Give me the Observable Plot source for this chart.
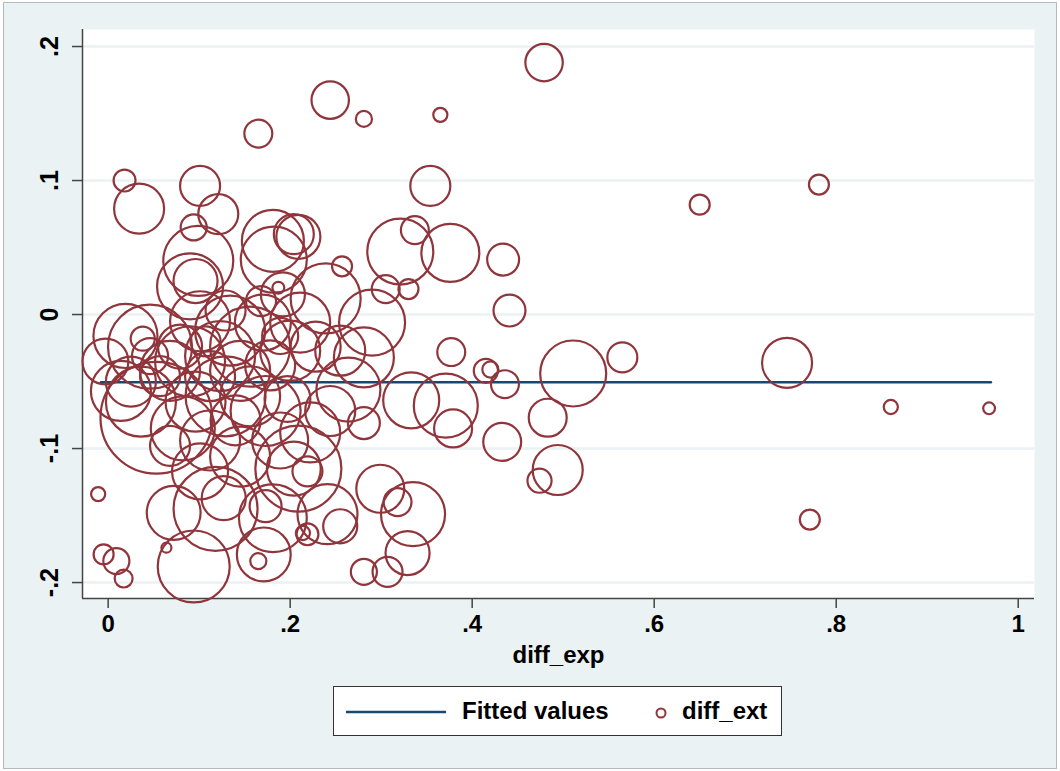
<!DOCTYPE html>
<html>
<head>
<meta charset="utf-8">
<script src="https://cdn.jsdelivr.net/npm/d3@7"></script>
<script src="https://cdn.jsdelivr.net/npm/@observablehq/plot@0.6"></script>
<style>
  html, body { margin: 0; padding: 0; background: #ffffff; }
  #wrap { position: relative; width: 1060px; height: 771px; overflow: hidden; font-family: 'Liberation Sans', Arial, sans-serif; }
  #bg { position: absolute; left: 3px; top: 2px; width: 1052px; height: 765px; background: #eaf2f3; border: 1px solid #b3bbbf; }
  #chart { position: absolute; left: 0; top: 0; }
  #legend { position: absolute; left: 333px; top: 686px; width: 447px; height: 48px; background: #ffffff; border: 1px solid #333333; }
  #legend svg { position: absolute; left: 0; top: 0; }
  #legend .lab { position: absolute; top: 9px; font-size: 24px; font-weight: bold; color: #000; line-height: 30px; white-space: nowrap; }
</style>
</head>
<body>
<div id="wrap">
  <div id="bg"></div>
  <div id="chart"></div>
  <div id="legend">
    <svg width="447" height="48">
      <line x1="12" x2="112" y1="25" y2="25" stroke="#1a476f" stroke-width="2.5"></line>
      <circle cx="327" cy="26" r="4.5" fill="none" stroke="#90353b" stroke-width="2"></circle>
    </svg>
    <div class="lab" style="left:128px">Fitted values</div>
    <div class="lab" style="left:348px">diff_ext</div>
  </div>
</div>
<script>
// Scatter: diff_exp (x), diff_ext (y), analytic weight (bubble area)
const diffExp = [
  0.479, 0.244, 0.281, 0.365, 0.165, 0.018, 0.034, 0.101, 0.121, 0.094,
  0.099, 0.090, 0.096, 0.354, 0.337, 0.321, 0.376, 0.434, 0.441, 0.257,
  0.305, 0.330, 0.181, 0.182, 0.204, 0.209, 0.187, 0.192, 0.239, 0.290,
  0.281, 0.377, 0.415, 0.420, 0.436, 0.511, 0.565, 0.333, 0.371, 0.379,
  0.483, 0.433, 0.494, 0.474, 0.299, 0.318, 0.335, 0.329, 0.281, 0.307,
  0.281, 0.650, 0.781, 0.746, 0.860, 0.968, 0.771, -0.011, -0.005, 0.009,
  0.017, 0.064, 0.094, 0.072, 0.118, 0.127, 0.181, 0.173, 0.171, 0.165,
  0.219, 0.214, 0.255, 0.241, 0.209, 0.219, 0.204, 0.053, -0.003, 0.038,
  0.019, 0.046, 0.101, 0.134, 0.170, 0.211, 0.156, 0.123, 0.090, 0.068,
  0.200, 0.228, 0.255, 0.178, 0.145, 0.112, 0.025, 0.107, 0.129, 0.189,
  0.079, 0.082, 0.014, 0.096, 0.129, 0.156, 0.197, 0.173, 0.140, 0.112,
  0.222, 0.264, 0.189, 0.145, 0.244, 0.068, 0.101, 0.057, 0.046, 0.168,
  0.036
];
const diffExt = [
  0.188, 0.160, 0.146, 0.149, 0.135, 0.100, 0.079, 0.096, 0.075, 0.065,
  0.040, 0.021, 0.025, 0.096, 0.063, 0.047, 0.046, 0.041, 0.003, 0.036,
  0.019, 0.019, 0.055, 0.041, 0.060, 0.058, 0.020, 0.015, 0.012, -0.006,
  -0.032, -0.028, -0.042, -0.041, -0.052, -0.044, -0.032, -0.064, -0.068, -0.085,
  -0.077, -0.095, -0.116, -0.124, -0.130, -0.140, -0.149, -0.178, -0.192, -0.192,
  -0.081, 0.082, 0.097, -0.036, -0.069, -0.070, -0.153, -0.134, -0.179, -0.184,
  -0.197, -0.174, -0.188, -0.148, -0.145, -0.137, -0.152, -0.143, -0.179, -0.184,
  -0.164, -0.163, -0.158, -0.149, -0.115, -0.117, -0.115, -0.077, -0.035, -0.018,
  -0.016, -0.024, -0.005, -0.012, -0.006, -0.006, -0.024, -0.031, -0.035, -0.042,
  -0.027, -0.024, -0.027, -0.038, -0.042, -0.046, -0.050, -0.020, 0.003, -0.016,
  -0.024, -0.085, -0.057, -0.065, -0.061, -0.061, -0.063, -0.072, -0.079, -0.094,
  -0.088, -0.056, -0.094, -0.106, -0.072, -0.098, -0.117, -0.046, -0.031, 0.010,
  -0.065
];
const weight = [
  14, 14, 2.6, 2, 7.8, 4.8, 25, 16, 16, 6.8,
  49, 43.6, 19.4, 16, 7.8, 43.6, 33.6, 10.2, 10.2, 4,
  7.8, 4, 38.4, 43.6, 16, 19.4, 1.4, 19.4, 49, 43.6,
  36, 7.8, 5.8, 2.6, 7.8, 43.6, 9, 31.4, 41, 14.4,
  14.4, 14.4, 25, 5.8, 23, 7.8, 41, 19.4, 6.8, 9,
  10.2, 4, 4, 25, 2, 1.4, 4, 2, 4, 6.8,
  3.2, 1, 51.8, 29, 70.6, 19.4, 46, 10.2, 29, 2.6,
  4.8, 2, 11.6, 36, 74, 9, 29, 125, 21, 5.8,
  41, 70.6, 36, 49, 31.4, 36, 64, 49, 49, 36,
  36, 25, 25, 25, 36, 25, 25, 9, 16, 13,
  19.4, 41, 36, 36, 64, 36, 21, 49, 25, 36,
  36, 41, 31.4, 36, 25, 16, 31.4, 16, 13, 9,
  49
];

// Fitted values (linear fit)
const fitExp = [-0.008, 0.970];
const fitExt = [-0.0505, -0.0505];

// Axes
const xTicks = [0, 0.2, 0.4, 0.6, 0.8, 1];
const xTickLabels = ["0", ".2", ".4", ".6", ".8", "1"];
const yTicks = [-0.2, -0.1, 0, 0.1, 0.2];
const yTickLabels = ["-.2", "-.1", "0", ".1", ".2"];
const xTitle = "diff_exp";
const xDomain = [-0.0282, 1.0179];
const yDomain = [-0.2119, 0.2127];

const points = diffExp.map((x, i) => ({x, y: diffExt[i], w: weight[i]}));
const fit = fitExp.map((x, i) => ({x, y: fitExt[i]}));
const xFmt = new Map(xTicks.map((t, i) => [t, xTickLabels[i]]));
const yFmt = new Map(yTicks.map((t, i) => [t, yTickLabels[i]]));

const chart = Plot.plot({
  width: 1060,
  height: 771,
  marginLeft: 82,
  marginRight: 26,
  marginTop: 29,
  marginBottom: 173,
  style: {background: "transparent", fontFamily: "'Liberation Sans', Arial, sans-serif", fontSize: "24px", fontWeight: "bold", color: "#000"},
  x: {domain: xDomain},
  y: {domain: yDomain},
  r: {type: "sqrt", domain: [0, 100], range: [0, 50]},
  marks: [
    Plot.frame({fill: "#ffffff", stroke: "none"}),
    Plot.gridY(yTicks, {stroke: "#eaf2f3", strokeOpacity: 1, strokeWidth: 2.5}),
    Plot.ruleX([xDomain[0]], {stroke: "#444", strokeWidth: 1.5}),
    Plot.ruleY([yDomain[0]], {stroke: "#444", strokeWidth: 1.5}),
    Plot.axisX(xTicks, {tickSize: 10, tickPadding: 6, stroke: "#444", strokeWidth: 1.5, tickFormat: d => xFmt.get(d), label: null, fill: "#000"}),
    Plot.axisY(yTicks, {tickSize: 10, tickPadding: 15, tickRotate: -90, stroke: "#444", strokeWidth: 1.5, tickFormat: d => yFmt.get(d), label: null, fill: "#000", fontSize: 25}),
    Plot.text([xTitle], {frameAnchor: "bottom", dy: 64, lineAnchor: "bottom", text: d => d, fill: "#000", fontSize: 24, fontWeight: "bold"}),
    Plot.line(fit, {x: "x", y: "y", stroke: "#1a476f", strokeWidth: 2.5}),
    Plot.dot(points, {x: "x", y: "y", r: "w", stroke: "#90353b", strokeWidth: 2.2, fill: "none"})
  ]
});
document.getElementById("chart").appendChild(chart);
</script>
</body>
</html>
